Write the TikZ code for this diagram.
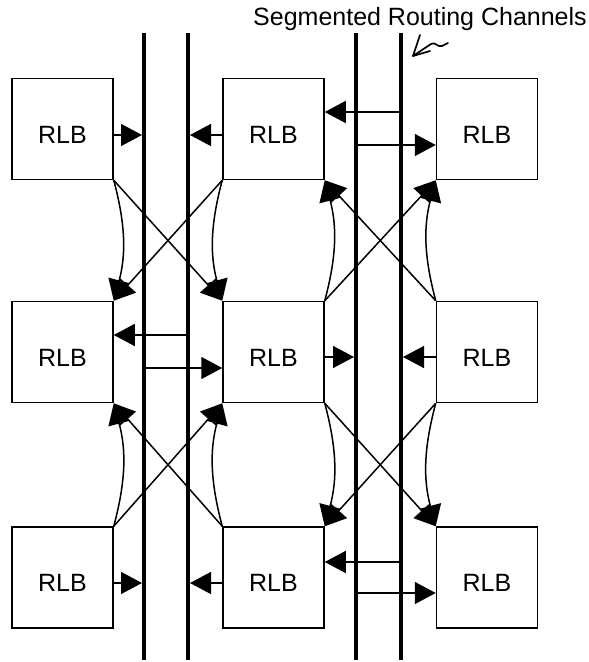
\documentclass[tikz,border=0pt]{standalone}
\usepackage{fontspec}
\setmainfont{Liberation Sans}
\usetikzlibrary{arrows.meta}
\begin{document}
\begin{tikzpicture}[x=1pt,y=-1pt,
  box/.style={draw, line width=1.5pt, minimum width=101pt, minimum height=101pt, inner sep=0pt},
  lbl/.style={inner sep=0pt, font=\fontsize{25pt}{30pt}\selectfont},
  chan/.style={line width=4.4pt},
  wire/.style={line width=1.5pt},
  arr/.style={wire, -{Triangle[length=21pt,width=22pt]}},
  tochan/.style={arr, shorten >=2pt},
  pen/.style={line width=1.7pt, line cap=round, line join=round}]
\path[use as bounding box] (0,0) rectangle (589,662);

% logic blocks
\foreach \c/\x in {1/62.5,2/273.5,3/487}{
  \foreach \r/\y in {1/129,2/352,3/577.5}{
    \node[box] (b\r\c) at (\x,\y) {};
    \node[lbl] (t\r\c) at ([yshift=-5.5pt]b\r\c.center) {RLB};
  }
}

% segmented routing channels
\foreach \i/\x in {1/144,2/188,3/356,4/401}{
  \coordinate (ch\i t) at (\x,33);
  \coordinate (ch\i b) at (\x,660);
  \draw[chan] (ch\i t) -- (ch\i b);
}

% caption and hand-drawn pointer
\node[lbl, anchor=base west] (title) at (253,25) {Segmented Routing Channels};
\coordinate (ptip) at (413,56);
\coordinate (pb1) at (420,35);
\coordinate (pb2) at (430,51);
\draw[pen] (pb1) -- (ptip) -- (pb2);
\draw[pen] (ptip) -- (431,44) .. controls (435,41) and (438,48) .. (442,46) -- (448,43);

% row 1: block <-> channel links
\draw[tochan] (b11.east |- 0,135) -- (ch1t |- 0,135);
\draw[tochan] (b12.west |- 0,135) -- (ch2t |- 0,135);
\draw[arr] (ch4t |- 0,112) -- (b12.east |- 0,112);
\draw[arr] (ch3t |- 0,145) -- (b13.west |- 0,145);

% row 2
\draw[arr] (ch2t |- 0,335) -- (b21.east |- 0,335);
\draw[arr] (ch1t |- 0,368) -- (b22.west |- 0,368);
\draw[tochan] (b22.east |- 0,357) -- (ch3t |- 0,357);
\draw[tochan] (b23.west |- 0,357) -- (ch4t |- 0,357);

% row 3
\draw[tochan] (b31.east |- 0,583) -- (ch1t |- 0,583);
\draw[tochan] (b32.west |- 0,583) -- (ch2t |- 0,583);
\draw[arr] (ch4t |- 0,562) -- (b32.east |- 0,562);
\draw[arr] (ch3t |- 0,593) -- (b33.west |- 0,593);

% direct links, rows 1 -> 2, left channel
\draw[arr] (b11.south east) -- (b22.north west);
\draw[arr] (b12.south west) -- (b21.north east);
\draw[arr] (b11.south east) to[bend left=15] (b21.north east);
\draw[arr] (b12.south west) to[bend right=15] (b22.north west);

% direct links, rows 2 -> 1, right channel
\draw[arr] (b22.north east) -- (b13.south west);
\draw[arr] (b23.north west) -- (b12.south east);
\draw[arr] (b22.north east) to[bend right=15] (b12.south east);
\draw[arr] (b23.north west) to[bend left=15] (b13.south west);

% direct links, rows 3 -> 2, left channel
\draw[arr] (b31.north east) -- (b22.south west);
\draw[arr] (b32.north west) -- (b21.south east);
\draw[arr] (b31.north east) to[bend right=15] (b21.south east);
\draw[arr] (b32.north west) to[bend left=15] (b22.south west);

% direct links, rows 2 -> 3, right channel
\draw[arr] (b22.south east) -- (b33.north west);
\draw[arr] (b23.south west) -- (b32.north east);
\draw[arr] (b22.south east) to[bend left=15] (b32.north east);
\draw[arr] (b23.south west) to[bend right=15] (b33.north west);
\end{tikzpicture}
\end{document}
